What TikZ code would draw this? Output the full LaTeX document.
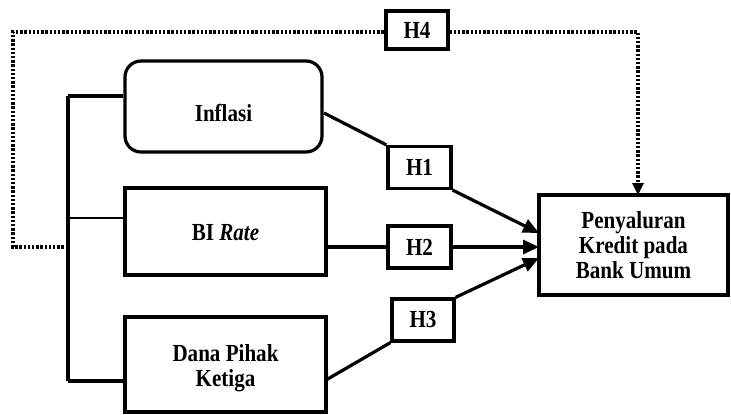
\documentclass[tikz,border=0pt]{standalone}
\usepackage{fontspec}
\setmainfont{Liberation Serif}[FakeStretch=0.86]
\usetikzlibrary{arrows.meta}
\begin{document}
\begin{tikzpicture}[x=1pt,y=-1pt,
  lbl/.style={font=\fontsize{24.5}{25}\selectfont\bfseries,align=center,inner sep=0pt},
  box/.style={draw,line width=3.2pt,inner sep=0pt,align=center,
    font=\fontsize{24.5}{25}\selectfont\bfseries},
  hbox/.style={box,minimum width=63pt,minimum height=42pt},
  conn/.style={line width=3.2pt},
  thinconn/.style={line width=1.6pt},
  arr/.style={conn,-{Triangle[length=16pt,width=14pt]}},
  dotline/.style={line width=3.6pt,dash pattern=on 2.4pt off 1.8pt},
  darr/.style={dotline,-{Triangle[length=12pt,width=11pt]}}]
\useasboundingbox (0,0) rectangle (731,415);
\node[box,rounded corners=16pt,minimum width=197pt,minimum height=91pt] (inf) at (223.5,106.5) {};
\node[lbl] (inft) at (223.5,113) {Inflasi};
\node[box,minimum width=201pt,minimum height=87pt] (bi) at (225.5,231.5) {};
\node[lbl] (bit) at (225.5,233) {BI \textit{Rate}};
\node[box,minimum width=201pt,minimum height=95pt] (dpk) at (225.5,364.5) {};
\node[lbl] (dpkt) at (225.5,368) {Dana Pihak\\Ketiga};
\node[box,minimum width=189pt,minimum height=100pt] (pk) at (633.5,245) {Penyaluran\\Kredit pada\\Bank Umum};
\node[hbox] (h1) at (419.5,167.5) {H1};
\node[hbox] (h2) at (419.5,247) {H2};
\node[hbox,minimum width=62pt] (h3) at (423,320) {H3};
\node[hbox,minimum width=62pt,minimum height=38pt] (h4) at (417,30) {H4};
% left bracket
\coordinate (vt) at (68,96);
\coordinate (vm) at (68,218);
\coordinate (vb) at (68,381);
\coordinate (vd) at (68,247);
\draw[conn] (vt) -- (vb);
\draw[conn] (vt) -- (vt -| inf.west);
\draw[thinconn] (vm) -- (vm -| bi.west);
\draw[conn] (vb) -- (vb -| dpk.west);
% dotted H4
\coordinate (dl) at (13,247);
\coordinate (dtl) at (13,32);
\coordinate (dtr) at (638,32);
\coordinate (dpt) at (638,195);
\draw[dotline] (vd) -- (dl) -- (dtl) -- (dtl -| h4.west);
\draw[darr] (dtr -| h4.east) -- (dtr) -- (dpt);
% H1
\coordinate (i1) at (324,113);
\coordinate (p1) at (539,233);
\draw[conn] (i1) -- (h1.north west);
\draw[arr] (h1.south east) -- (p1);
% H2
\coordinate (b2) at (326,247);
\coordinate (p2) at (539,247);
\draw[conn] (b2) -- (h2.west);
\draw[arr] (h2.east) -- (p2);
% H3
\coordinate (d3) at (326,380);
\coordinate (p3) at (539,258);
\draw[conn] (d3) -- (h3.south west);
\draw[arr] (h3.north east) -- (p3);
\end{tikzpicture}
\end{document}
